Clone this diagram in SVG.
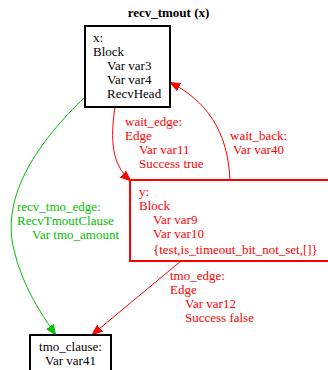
<svg xmlns="http://www.w3.org/2000/svg" width="328" height="370" viewBox="0 0 328 370">
<style>
text{font-family:"Liberation Serif","Times New Roman",serif;font-size:13px}
.k{fill:#000}
.r{fill:#ff0000}
.g{fill:#00c000}
.title{font-weight:bold}
</style>
<defs>
<marker id="ar" viewBox="0 0 10 10" refX="9" refY="5" markerWidth="10" markerHeight="10" markerUnits="userSpaceOnUse" orient="auto"><path d="M0,1 L10,5 L0,9 z" fill="#ff0000" stroke="#ff0000"/></marker>
<marker id="ag" viewBox="0 0 10 10" refX="9" refY="5" markerWidth="10" markerHeight="10" markerUnits="userSpaceOnUse" orient="auto"><path d="M0,1 L10,5 L0,9 z" fill="#00c000" stroke="#00c000"/></marker>
</defs>
<rect width="328" height="370" fill="#fff"/>
<text class="k title" x="168.5" y="17" text-anchor="middle">recv_tmout (x)</text>
<g id="connectors" fill="none">
<path d="M85,97 C40,140 0,195 14,250 C22,285 40,312 55,334" stroke="#00c000" marker-end="url(#ag)"/>
<path d="M115,107 C110,140 112,165 130,180" stroke="#ff0000" marker-end="url(#ar)"/>
<path d="M230,180 C228,130 205,100 171,83" stroke="#ff0000" marker-end="url(#ar)"/>
<path d="M181,261 L93,334" stroke="#ff0000" marker-end="url(#ar)"/>
<text class="g" x="17" y="211">recv_tmo_edge:</text>
<text class="g" x="17" y="225">RecvTmoutClause</text>
<text class="g" x="32" y="239">Var tmo_amount</text>
<text class="r" x="125" y="126">wait_edge:</text>
<text class="r" x="125" y="140">Edge</text>
<text class="r" x="139" y="154">Var var11</text>
<text class="r" x="139" y="168">Success true</text>
<text class="r" x="230" y="140">wait_back:</text>
<text class="r" x="233" y="154">Var var40</text>
<text class="r" x="170" y="280">tmo_edge:</text>
<text class="r" x="170" y="294">Edge</text>
<text class="r" x="185" y="308">Var var12</text>
<text class="r" x="185" y="322">Success false</text>
</g>
<g id="node_x">
<rect x="85" y="26" width="85" height="81" fill="none" stroke="#000" stroke-width="2"/>
<text class="k" x="93" y="42">x:</text>
<text class="k" x="93" y="56">Block</text>
<text class="k" x="107" y="70">Var var3</text>
<text class="k" x="107" y="84">Var var4</text>
<text class="k" x="107" y="98">RecvHead</text>
</g>
<g id="node_y">
<rect x="130" y="180" width="210" height="81" fill="none" stroke="#ff0000" stroke-width="2"/>
<text class="r" x="139" y="196">y:</text>
<text class="r" x="139" y="210">Block</text>
<text class="r" x="153" y="224">Var var9</text>
<text class="r" x="153" y="238">Var var10</text>
<text class="r" x="153" y="254">{test,is_timeout_bit_not_set,[]}</text>
</g>
<g id="node_tmo_clause">
<rect x="30" y="335" width="81" height="45" fill="none" stroke="#000" stroke-width="2"/>
<text class="k" x="70.5" y="351" text-anchor="middle">tmo_clause:</text>
<text class="k" x="70.5" y="365" text-anchor="middle">Var var41</text>
</g>
</svg>
